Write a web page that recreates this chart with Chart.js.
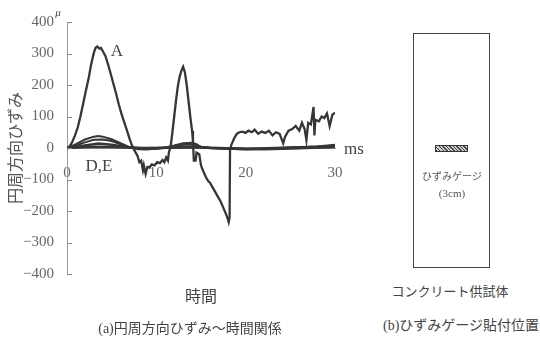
<!DOCTYPE html>
<html>
<head>
<meta charset="utf-8">
<script src="https://cdn.jsdelivr.net/npm/chart.js@4"></script>
<style>
  body { margin: 0; background: #fff; }
  #wrap { position: relative; width: 540px; height: 342px; overflow: hidden; }
  #chart { position: absolute; left: 0; top: 0; }
  .t { position: absolute; transform: translate(-50%, -50%); white-space: nowrap; color: #444; }
  .serif { font-family: "Liberation Serif", "DejaVu Serif", serif; }
  .jp { font-family: "Noto Sans CJK JP", sans-serif; }
  #spec { position: absolute; left: 413px; top: 33px; width: 75px; height: 233px; border: 1.5px solid #444; }
  #gauge { position: absolute; left: 435px; top: 145px; width: 31px; height: 5px; border: 1px solid #333;
           background: repeating-linear-gradient(45deg, #444 0 1px, #ccc 1px 2.5px); }
</style>
</head>
<body>
<div id="wrap">
  <canvas id="chart" width="380" height="342"></canvas>
  <div class="t serif" style="left:58px;top:12px;font-size:11px;font-style:italic;">μ</div>
  <div class="t serif" style="left:117px;top:51px;font-size:17px;">A</div>
  <div class="t serif" style="left:99px;top:166px;font-size:17px;">D,E</div>
  <div class="t serif" style="left:354px;top:149px;font-size:17px;">ms</div>
  <div class="t jp" style="left:201px;top:295px;font-size:16px;">時間</div>
  <div class="t jp" style="left:190px;top:327px;font-size:14px;"><span class="serif">(a)</span>円周方向ひずみ～時間関係</div>
  <div id="spec"></div>
  <div id="gauge"></div>
  <div class="t jp" style="left:452px;top:175px;font-size:10px;color:#555;">ひずみゲージ</div>
  <div class="t serif" style="left:452px;top:193px;font-size:11px;color:#555;">(3cm)</div>
  <div class="t jp" style="left:450px;top:290px;font-size:13px;">コンクリート供試体</div>
  <div class="t jp" style="left:461px;top:324px;font-size:14px;"><span class="serif">(b)</span>ひずみゲージ貼付位置</div>
</div>
<script>
// gauge A (large response)
const timeA = [0, 0.3, 0.6, 0.9, 1.2, 1.5, 1.8, 2.1, 2.4, 2.7, 3.0, 3.2, 3.4, 3.6, 3.8, 4.0, 4.3, 4.6, 4.9, 5.2,
  5.5, 5.8, 6.1, 6.4, 6.7, 7.0, 7.3, 7.6, 7.9, 8.1, 8.3, 8.5, 8.6, 8.8, 9.0, 9.2, 9.5, 9.8, 10.1, 10.4,
  10.7, 10.9, 11.1, 11.3, 11.4, 11.6, 11.8, 12.0, 12.2, 12.4, 12.6, 12.8, 13.0, 13.2, 13.4, 13.6, 13.8, 14.0, 14.1, 14.2,
  14.4, 14.5, 14.8, 15.0, 15.2, 15.5, 15.8, 16.0, 16.3, 16.6, 16.9, 17.2, 17.5, 17.8, 18.0, 18.1, 18.2, 18.25, 18.4, 18.7,
  19.0, 19.3, 19.6, 20.0, 20.3, 20.7, 21.0, 21.4, 21.8, 22.2, 22.6, 23.0, 23.4, 23.8, 24.0, 24.2, 24.4, 24.8, 25.2, 25.6,
  26.0, 26.3, 26.6, 26.8, 27.0, 27.3, 27.6, 27.7, 27.8, 28.2, 28.5, 28.8, 29.1, 29.4, 29.7, 30.0];
const strainA = [0, 5, 20, 40, 65, 100, 140, 180, 218, 265, 302, 318, 322, 316, 318, 308, 292, 265, 235, 203,
  172, 138, 108, 82, 57, 30, 6, -10, -25, -45, -40, -70, -55, -82, -60, -62, -52, -55, -45, -48,
  -38, -45, -30, -40, -15, 5, 50, 100, 150, 195, 225, 245, 258, 240, 200, 150, 100, 55, 20, -40,
  -40, -15, -20, -55, -70, -90, -105, -110, -125, -140, -155, -170, -190, -210, -225, -235, -220, -5, 10, 30,
  45, 50, 52, 48, 55, 50, 58, 45, 52, 48, 55, 40, 50, 45, 30, 15, 35, 55, 60, 70,
  55, 80, 60, 25, 80, 75, 130, 40, 90, 85, 100, 95, 110, 70, 105, 112];

// gauges B, C (small bumps) and D, E (near zero)
const timeB = [0, 1, 2, 3, 3.5, 4, 5, 6, 7, 8, 9, 10, 11, 12, 13, 14, 14.5, 15, 16, 18, 20, 22, 24, 26, 28, 30];
const strainB = [0, 12, 27, 36, 38, 36, 28, 15, 3, -3, -5, -2, 2, 8, 15, 17, 12, 3, 0, -2, -5, -3, 0, 2, 5, 10];
const timeC = [0, 1, 2, 3, 4, 5, 6, 7, 8, 10, 12, 13, 14, 15, 16, 20, 25, 30];
const strainC = [0, 8, 18, 26, 27, 22, 12, 2, -4, -2, 4, 10, 12, 4, 0, -2, 2, 6];
const timeD = [0, 2, 3.5, 5, 7, 9, 12, 14, 16, 20, 25, 30];
const strainD = [0, 8, 14, 10, 2, -2, 2, 5, 0, -3, 0, 4];
const timeE = [0, 3, 5, 8, 12, 14, 18, 22, 26, 30];
const strainE = [0, 4, 3, 0, 1, 2, -1, -4, -1, 3];

const yTicks = [-400, -300, -200, -100, 0, 100, 200, 300, 400];

const pts = (t, v) => t.map((x, i) => ({ x: x, y: v[i] }));
const line = (t, v, w) => ({ data: pts(t, v), borderColor: '#363636', borderWidth: w, pointRadius: 0, tension: 0 });

// short inward tick marks on the y axis
const innerTicks = {
    id: 'innerTicks',
    afterDraw(chart) {
        const y = chart.scales.y, ctx = chart.ctx, left = chart.chartArea.left;
        ctx.save();
        ctx.strokeStyle = '#888'; ctx.lineWidth = 1;
        yTicks.forEach(v => {
            const py = Math.round(y.getPixelForValue(v)) + 0.5;
            ctx.beginPath(); ctx.moveTo(left, py); ctx.lineTo(left + 5, py); ctx.stroke();
        });
        ctx.restore();
    }
};

new Chart(document.getElementById('chart'), {
    type: 'line',
    data: { datasets: [
        line(timeE, strainE, 2.5), line(timeD, strainD, 2.5), line(timeC, strainC, 2),
        line(timeB, strainB, 2), line(timeA, strainA, 2.3)
    ] },
    options: {
        responsive: false, animation: false,
        layout: { padding: { left: 0, right: 45, top: 22, bottom: 68 } },
        plugins: { legend: { display: false }, tooltip: { enabled: false } },
        scales: {
            x: {
                type: 'linear', min: 0, max: 30, position: { y: 0 },
                grid: { display: false, drawTicks: false },
                border: { color: '#999' },
                ticks: { stepSize: 10, padding: 16, color: '#666', font: { family: 'Liberation Serif', size: 15 } }
            },
            y: {
                min: -400, max: 400,
                afterFit(scale) { scale.width = 67; },
                grid: { display: false, drawTicks: false },
                border: { color: '#999' },
                ticks: { stepSize: 100, padding: 13, color: '#666', font: { family: 'Liberation Serif', size: 15 },
                         callback: v => String(v).replace('-', '\u2212') },
                title: { display: true, text: '円周方向ひずみ', color: '#555', padding: { top: 5 },
                         font: { family: 'Noto Sans CJK JP', size: 16 } }
            }
        }
    },
    plugins: [innerTicks]
});
</script>
</body>
</html>
